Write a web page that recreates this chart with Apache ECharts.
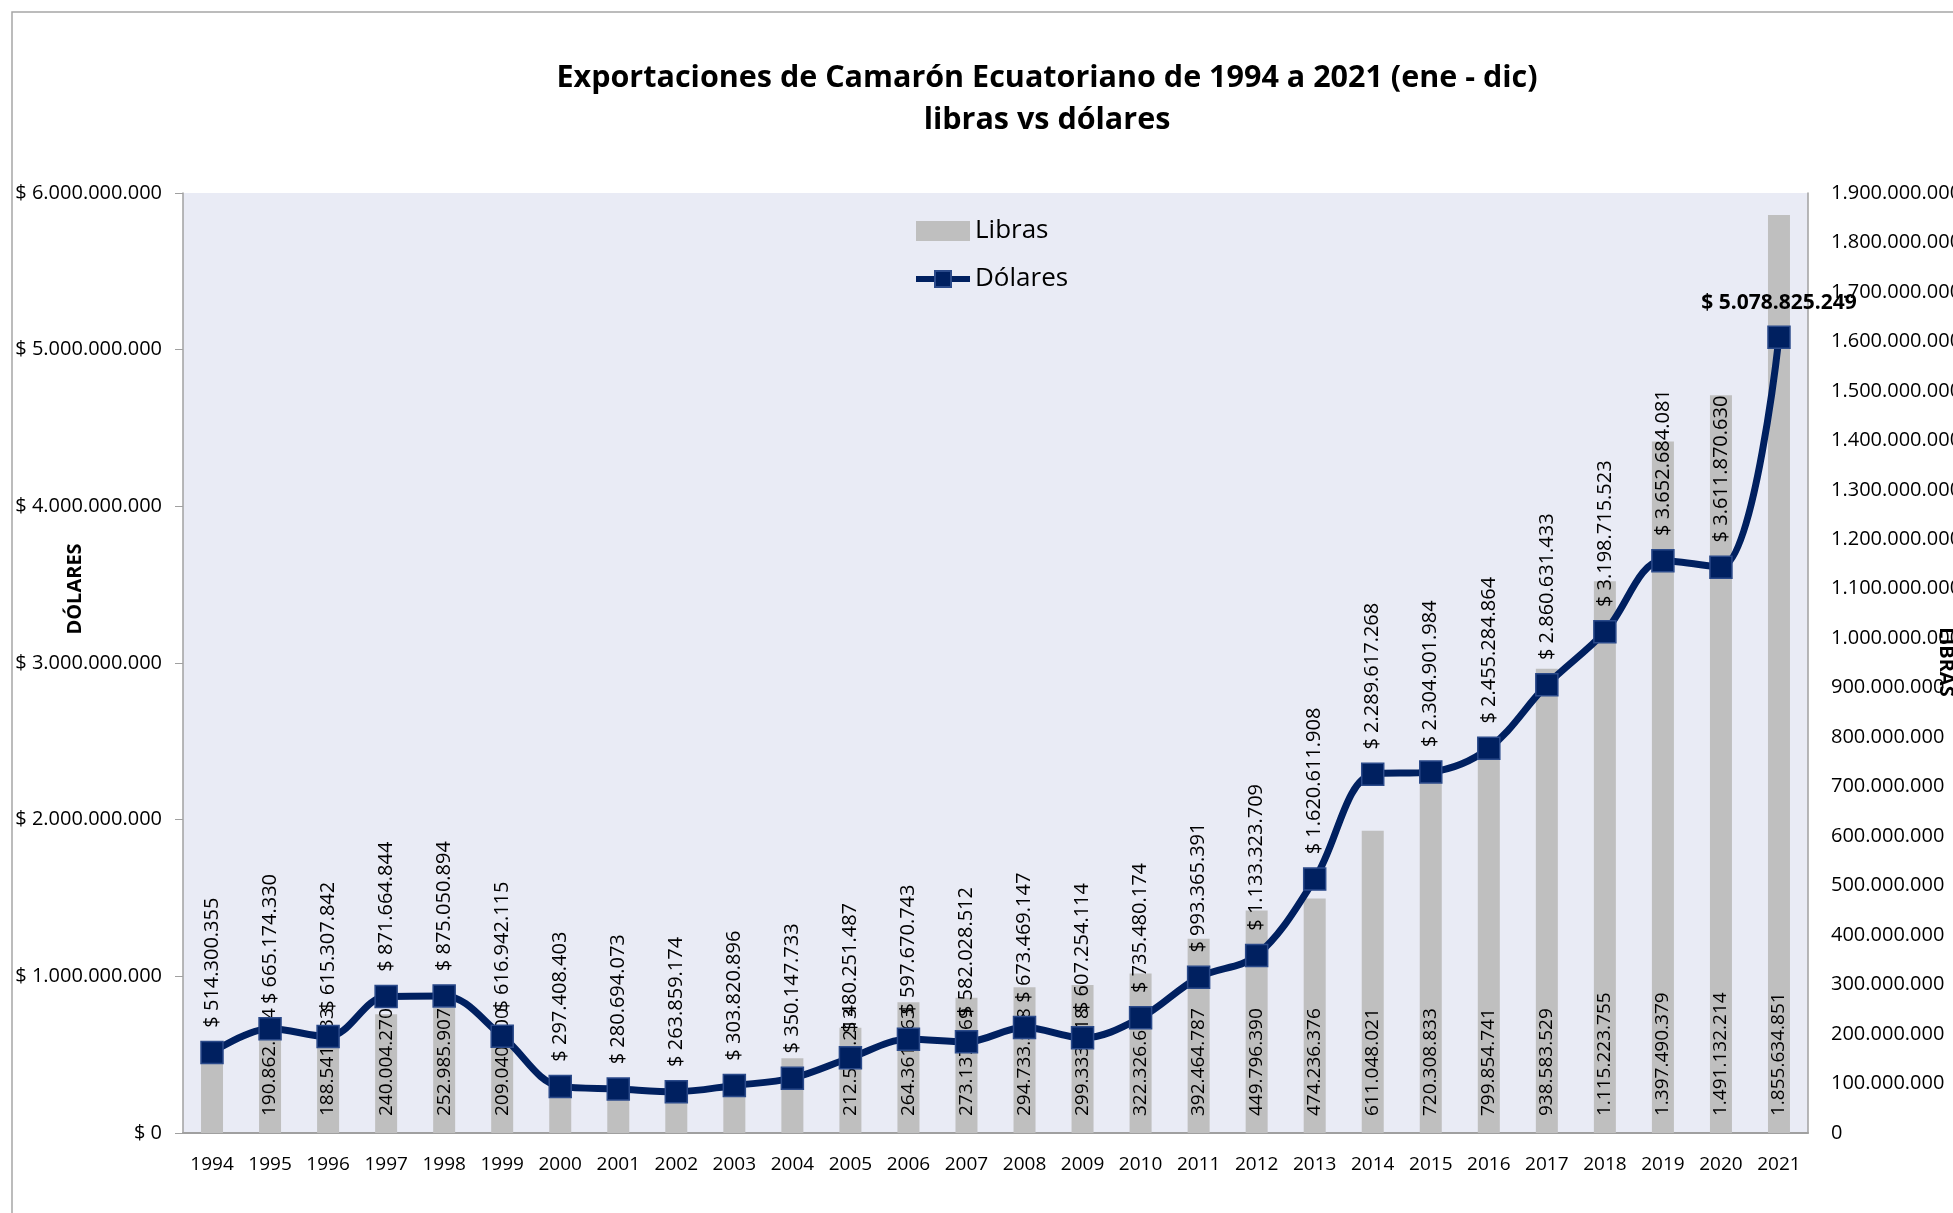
<!DOCTYPE html>
<html>
<head>
<meta charset="utf-8">
<title>Exportaciones de Camarón</title>
<script src="https://cdn.jsdelivr.net/npm/echarts@6/dist/echarts.min.js"></script>
<style>
  html, body { margin: 0; padding: 0; background: #fff; }
  #chart { width: 1953px; height: 1213px; }
</style>
</head>
<body>
<div id="chart"></div>
<script>
// datos
var years = ['1994', '1995', '1996', '1997', '1998', '1999', '2000', '2001', '2002', '2003',
  '2004', '2005', '2006', '2007', '2008', '2009', '2010', '2011', '2012', '2013',
  '2014', '2015', '2016', '2017', '2018', '2019', '2020', '2021']

var libras = [156000000, 190862764, 188541533, 240004270, 252985907, 209040500,
  82000000, 97000000, 101000000, 116000000, 151000000,
  212575213, 264361763, 273137769, 294733588, 299333918, 322326680,
  392464787, 449796390, 474236376, 611048021, 720308833, 799854741,
  938583529, 1115223755, 1397490379, 1491132214, 1855634851]

var dolares = [514300355, 665174330, 615307842, 871664844, 875050894, 616942115,
  297408403, 280694073, 263859174, 303820896, 350147733,
  480251487, 597670743, 582028512, 673469147, 607254114, 735480174,
  993365391, 1133323709, 1620611908, 2289617268, 2304901984, 2455284864,
  2860631433, 3198715523, 3652684081, 3611870630, 5078825249]

// barras sin etiqueta en el original
var sinEtiqueta = ['1994', '2000', '2001', '2002', '2003', '2004']

function miles (n) {
  return String(Math.round(n)).replace(/\B(?=(\d{3})+(?!\d))/g, '.')
}

var font = '"Open Sans", "Noto Sans", sans-serif'

var barData = libras.map(function (v, i) {
  if (sinEtiqueta.indexOf(years[i]) >= 0) {
    return { value: v, label: { show: false } }
  }
  return v
})

var lineData = dolares.map(function (v, i) {
  if (i === dolares.length - 1) {
    return {
      value: v,
      label: { rotate: 0, align: 'center', verticalAlign: 'bottom', fontWeight: 'bold', fontSize: 21, distance: 12 }
    }
  }
  return v
})

var chart = echarts.init(document.getElementById('chart'))
var option = {
  backgroundColor: '#ffffff',
  textStyle: { fontFamily: font },
  animation: false,
  title: {
    text: 'Exportaciones de Camarón Ecuatoriano de 1994 a 2021 (ene - dic)\nlibras vs dólares',
    left: 1042,
    top: 52,
    textAlign: 'center',
    textStyle: { fontFamily: font, fontSize: 30.5, fontWeight: 'bold', color: '#000', lineHeight: 42 }
  },
  legend: {
    orient: 'vertical',
    left: 908,
    top: 212,
    itemWidth: 54,
    itemHeight: 20,
    itemGap: 20,
    textStyle: { fontFamily: font, fontSize: 26, color: '#000', lineHeight: 28 },
    data: [
      { name: 'Libras', icon: 'rect' },
      { name: 'Dólares', lineStyle: { width: 6 } }
    ]
  },
  graphic: [
    {
      type: 'rect',
      shape: { x: 12, y: 12, width: 3000, height: 3000 },
      style: { fill: 'none', stroke: '#A6A6A6', lineWidth: 1.5 },
      silent: true
    },
    {
      type: 'text',
      x: 75,
      y: 589,
      rotation: Math.PI / 2,
      style: { text: 'DÓLARES', font: 'bold 20px ' + font, fill: '#000', align: 'center', verticalAlign: 'middle' }
    },
    {
      type: 'text',
      x: 1946,
      y: 662,
      rotation: -Math.PI / 2,
      style: { text: 'LIBRAS', font: 'bold 20px ' + font, fill: '#000', align: 'center', verticalAlign: 'middle' }
    }
  ],
  grid: {
    left: 183,
    right: 145,
    top: 193,
    bottom: 80,
    outerBoundsMode: 'none',
    containLabel: false,
    show: true,
    backgroundColor: '#E9EBF5',
    borderWidth: 0
  },
  xAxis: {
    type: 'category',
    data: years,
    axisLine: { lineStyle: { color: '#A0A0A0', width: 2 } },
    axisTick: { show: false },
    axisLabel: { color: '#000', fontSize: 19, margin: 22, fontFamily: font }
  },
  yAxis: [
    {
      type: 'value',
      min: 0,
      max: 6000000000,
      interval: 1000000000,
      position: 'left',
      splitLine: { show: false },
      axisLine: { show: true, lineStyle: { color: '#A0A0A0', width: 1.5 } },
      axisTick: { show: true, length: 8, lineStyle: { color: '#A0A0A0' } },
      axisLabel: {
        color: '#000',
        fontSize: 20,
        margin: 21,
        fontFamily: font,
        formatter: function (v) { return '$ ' + miles(v) }
      }
    },
    {
      type: 'value',
      min: 0,
      max: 1900000000,
      interval: 100000000,
      position: 'right',
      splitLine: { show: false },
      axisLine: { show: true, lineStyle: { color: '#A0A0A0', width: 1.5 } },
      axisTick: { show: false },
      axisLabel: {
        color: '#000',
        fontSize: 20,
        margin: 23,
        fontFamily: font,
        formatter: function (v) { return miles(v) }
      }
    }
  ],
  series: [
    {
      name: 'Libras',
      type: 'bar',
      yAxisIndex: 1,
      data: barData,
      barWidth: 22,
      itemStyle: { color: '#BFBFBF' },
      label: {
        show: true,
        position: 'insideBottom',
        distance: 17,
        rotate: 90,
        align: 'left',
        verticalAlign: 'middle',
        color: '#000',
        fontSize: 19,
        fontFamily: font,
        formatter: function (p) { return miles(p.value) }
      }
    },
    {
      name: 'Dólares',
      type: 'line',
      yAxisIndex: 0,
      data: lineData,
      smooth: 0.35,
      symbol: 'rect',
      symbolSize: 22,
      lineStyle: { color: '#002060', width: 7 },
      itemStyle: { color: '#002060', borderColor: '#2B4A8A', borderWidth: 1.5 },
      label: {
        show: true,
        position: 'top',
        distance: 13,
        rotate: 90,
        align: 'left',
        verticalAlign: 'middle',
        color: '#000',
        fontSize: 20,
        fontFamily: font,
        formatter: function (p) { return '$ ' + miles(p.value) }
      }
    }
  ]
}
chart.setOption(option)
window.addEventListener('resize', function () { chart.resize() })
</script>
</body>
</html>
